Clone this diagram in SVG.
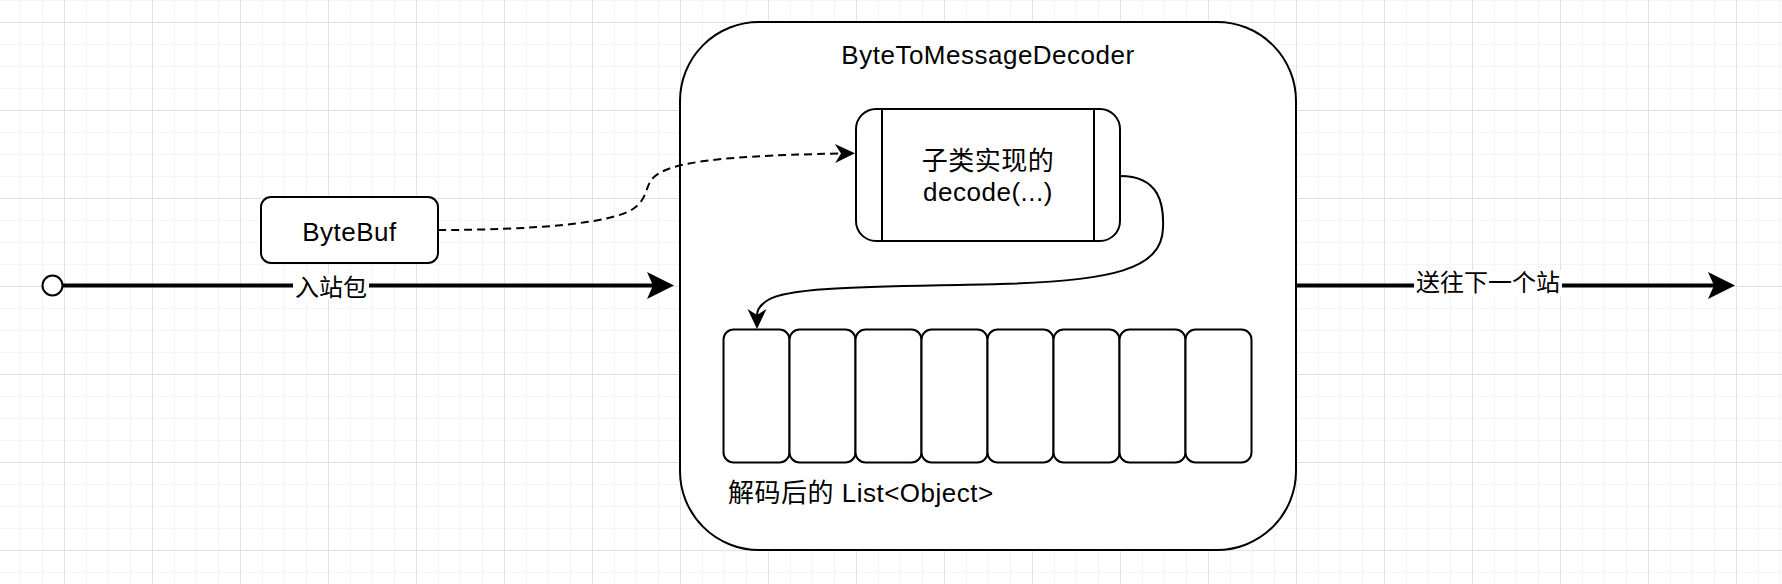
<svg xmlns="http://www.w3.org/2000/svg" width="1782" height="584" viewBox="0 0 1782 584">
<style>
.node{fill:#fff;stroke:#000;stroke-width:2}
.t{font-family:"Liberation Sans","Noto Sans CJK SC",sans-serif;fill:#000}
.n26{font-size:26px;letter-spacing:0.5px}
.e24{font-size:24px}
.mid{text-anchor:middle}
.edge{fill:none;stroke:#000}
.thick{stroke-width:4}
.thin{stroke-width:2}
.dash{stroke-dasharray:8 5}
.lblbg{fill:#fff}
</style>
<defs>
<pattern id="grid" patternUnits="userSpaceOnUse" x="-24" y="22" width="88" height="88">
<path d="M22.5,0V88M44.5,0V88M66.5,0V88M0,22.5H88M0,44.5H88M0,66.5H88" stroke="#f4f4f4" stroke-width="1" fill="none"/>
<path d="M0.5,0V88M0,0.5H88" stroke="#e2e2e2" stroke-width="1" fill="none"/>
</pattern>
<marker id="bigArrow" markerUnits="userSpaceOnUse" viewBox="-8 -15 30 30" refX="0" refY="0" markerWidth="30" markerHeight="30" orient="auto" overflow="visible">
<path d="M21,0 L-6,-13.5 L0,0 L-6,13.5 Z" fill="#000"/>
</marker>
<marker id="smallArrow" markerUnits="userSpaceOnUse" viewBox="-8 -11 24 22" refX="0" refY="0" markerWidth="24" markerHeight="22" orient="auto" overflow="visible">
<path d="M14,0 L-6,-9.5 L0,0 L-6,9.5 Z" fill="#000"/>
</marker>
</defs>
<rect width="1782" height="584" fill="#fff"/>
<rect width="1782" height="584" fill="url(#grid)"/>

<g id="container">
<rect class="node" x="680" y="22" width="616" height="528" rx="79" ry="79"/>
<text class="t n26 mid" x="988" y="64">ByteToMessageDecoder</text>
</g>

<g id="decode">
<rect class="node" x="856" y="109" width="264" height="132" rx="20" ry="20"/>
<line class="edge thin" x1="882" y1="109" x2="882" y2="241"/>
<line class="edge thin" x1="1094" y1="109" x2="1094" y2="241"/>
<text class="t n26 mid" x="988" y="170">子类实现的</text>
<text class="t n26 mid" x="988" y="201">decode(...)</text>
</g>

<g id="bytebuf">
<rect class="node" x="261" y="197" width="177" height="66" rx="10" ry="10"/>
<text class="t n26 mid" x="349.5" y="241">ByteBuf</text>
</g>

<g id="start">
<circle class="node" cx="52.5" cy="285.5" r="10"/>
</g>

<g id="list">
<rect class="node" x="723.5" y="329.5" width="66" height="133" rx="10" ry="10"/>
<rect class="node" x="789.5" y="329.5" width="66" height="133" rx="10" ry="10"/>
<rect class="node" x="855.5" y="329.5" width="66" height="133" rx="10" ry="10"/>
<rect class="node" x="921.5" y="329.5" width="66" height="133" rx="10" ry="10"/>
<rect class="node" x="987.5" y="329.5" width="66" height="133" rx="10" ry="10"/>
<rect class="node" x="1053.5" y="329.5" width="66" height="133" rx="10" ry="10"/>
<rect class="node" x="1119.5" y="329.5" width="66" height="133" rx="10" ry="10"/>
<rect class="node" x="1185.5" y="329.5" width="66" height="133" rx="10" ry="10"/>
</g>

<g id="list-label">
<text class="t n26" x="728" y="502">解码后的 List&lt;Object&gt;</text>
</g>

<g id="connectors">
<path class="edge thick" d="M62.5,285.5 H653" marker-end="url(#bigArrow)"/>
<rect class="lblbg" x="293" y="274" width="76" height="26"/>
<text class="t e24 mid" x="331" y="296">入站包</text>

<path class="edge thick" d="M1296,285.5 H1714" marker-end="url(#bigArrow)"/>
<rect class="lblbg" x="1414" y="270" width="148" height="26"/>
<text class="t e24 mid" x="1488" y="290.5">送往下一个站</text>

<path class="edge thin dash" d="M438,230 C530,230 610,224 633,209 C648,199 645,186 653,178 C666,165 700,156 841,153.5" marker-end="url(#smallArrow)"/>

<path class="edge thin" d="M1120,176 C1160,176 1164,205 1163,228 C1162,270 1110,281 1000,284 C880,287 790,286 768,300 C760,305 757,309 757,315" marker-end="url(#smallArrow)"/>
</g>
</svg>
